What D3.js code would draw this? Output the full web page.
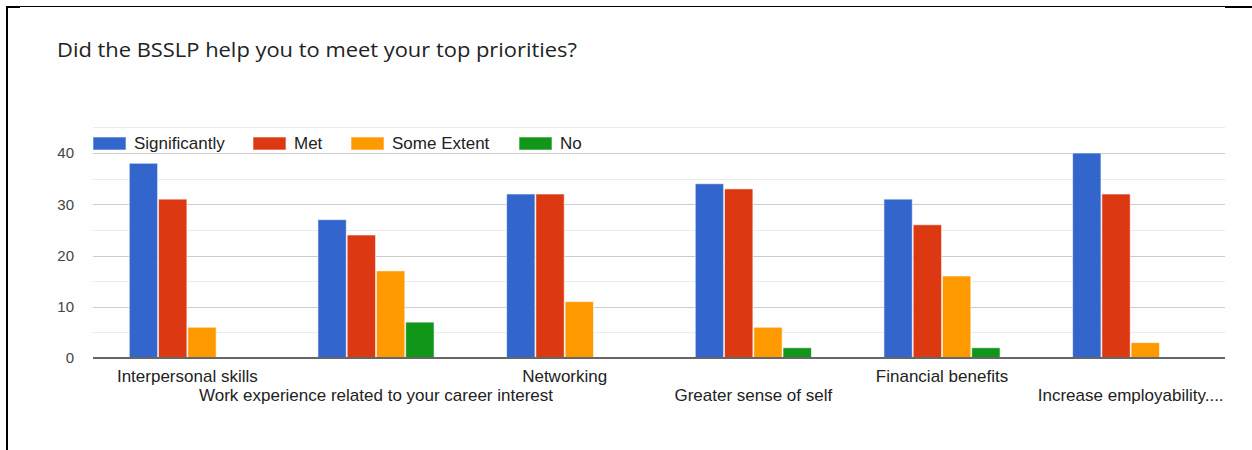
<!DOCTYPE html>
<html>
<head>
<meta charset="utf-8">
<script src="https://cdn.jsdelivr.net/npm/d3@7"></script>
<style>
  html, body { margin: 0; padding: 0; background: #fff; }
  svg { display: block; }
</style>
</head>
<body>
<svg id="chart" width="1252" height="450"></svg>
<script>
// Survey responses per priority
const categories = [
  "Interpersonal skills",
  "Work experience related to your career interest",
  "Networking",
  "Greater sense of self",
  "Financial benefits",
  "Increase employability...."
];
const seriesNames = ["Significantly", "Met", "Some Extent", "No"];
const significantly = [38, 27, 32, 34, 31, 40];
const met           = [31, 24, 32, 33, 26, 32];
const someExtent    = [6, 17, 11, 6, 16, 3];
const no            = [0, 7, 0, 2, 2, 0];
const yTicks = [0, 10, 20, 30, 40];
const colors = ["#3366cc", "#dc3912", "#ff9900", "#109618"];

const seriesValues = [significantly, met, someExtent, no];

const svg = d3.select("#chart");
const margin = { left: 93, right: 27, top: 127, bottom: 92 };
const W = 1252, H = 450;
const labelFont = "'Liberation Sans', Arial, sans-serif";

// frame
svg.append("rect").attr("x", 6).attr("y", 6).attr("width", 2).attr("height", H - 6).attr("fill", "#000");
svg.append("rect").attr("x", 6).attr("y", 6).attr("width", W - 6).attr("height", 1).attr("fill", "#000");
svg.append("rect").attr("x", 6).attr("y", 6).attr("width", 14).attr("height", 2).attr("fill", "#000");
svg.append("rect").attr("x", 1225).attr("y", 6).attr("width", 27).attr("height", 2).attr("fill", "#000");

// title
svg.append("text")
  .attr("x", 57).attr("y", 57)
  .attr("font-family", "'Open Sans', Roboto, sans-serif")
  .attr("font-size", 20)
  .attr("fill", "#222")
  .attr("textLength", 520)
  .attr("lengthAdjust", "spacingAndGlyphs")
  .text("Did the BSSLP help you to meet your top priorities?");

const x0 = d3.scaleBand()
  .domain(categories)
  .range([margin.left, W - margin.right])
  .paddingInner(0.375)
  .paddingOuter(0.1875);

const x1 = d3.scaleBand()
  .domain(seriesNames)
  .range([0, x0.bandwidth()])
  .padding(0.03);

const y = d3.scaleLinear()
  .domain([0, 45])
  .range([358, 358 - 45 * 5.125]);

const g = svg.append("g");

// minor gridlines
const minor = [5, 15, 25, 35, 45];
g.selectAll("line.minor").data(minor).enter().append("line")
  .attr("x1", margin.left).attr("x2", W - margin.right)
  .attr("y1", d => Math.round(y(d)) + 0.5).attr("y2", d => Math.round(y(d)) + 0.5)
  .attr("stroke", "#ebebeb").attr("stroke-width", 1);

// major gridlines
g.selectAll("line.major").data(yTicks.filter(d => d > 0)).enter().append("line")
  .attr("x1", margin.left).attr("x2", W - margin.right)
  .attr("y1", d => Math.round(y(d)) + 0.5).attr("y2", d => Math.round(y(d)) + 0.5)
  .attr("stroke", "#cccccc").attr("stroke-width", 1);

// y axis labels
const yAxis = d3.axisLeft(y).tickValues(yTicks).tickSize(0).tickPadding(0);
const yg = svg.append("g").attr("transform", "translate(74,0)").call(yAxis);
yg.select(".domain").remove();
yg.selectAll("text")
  .attr("font-family", labelFont)
  .attr("font-size", 15)
  .attr("fill", "#444");

// bars
categories.forEach((cat, ci) => {
  seriesNames.forEach((s, si) => {
    const v = seriesValues[si][ci];
    if (v <= 0) return;
    g.append("rect")
      .attr("x", x0(cat) + x1(s))
      .attr("y", y(v))
      .attr("width", x1.bandwidth())
      .attr("height", y(0) - y(v))
      .attr("fill", colors[si])
      .attr("stroke", "#fff")
      .attr("stroke-opacity", 0.6)
      .attr("stroke-width", 1);
  });
});

// baseline
g.append("line")
  .attr("x1", margin.left).attr("x2", W - margin.right)
  .attr("y1", y(0)).attr("y2", y(0))
  .attr("stroke", "#666").attr("stroke-width", 2);

// x axis labels, staggered on two rows
const xAxis = d3.axisBottom(x0).tickSize(0).tickPadding(0);
const xg = svg.append("g").attr("transform", `translate(0,${y(0)})`).call(xAxis);
xg.select(".domain").remove();
xg.selectAll("text")
  .attr("font-family", labelFont)
  .attr("font-size", 17)
  .attr("fill", "#222")
  .attr("dy", null)
  .attr("y", (d, i) => i % 2 === 0 ? 24 : 43);

// legend
const legendX = [93, 253, 351, 519];
const lg = svg.append("g");
seriesNames.forEach((s, i) => {
  lg.append("rect")
    .attr("x", legendX[i]).attr("y", 137)
    .attr("width", 33).attr("height", 13)
    .attr("fill", colors[i])
    .attr("stroke", "#fff").attr("stroke-opacity", 0.6);
  lg.append("text")
    .attr("x", legendX[i] + 41).attr("y", 149)
    .attr("font-family", labelFont)
    .attr("font-size", 17)
    .attr("fill", "#222")
    .text(s);
});
</script>
</body>
</html>
